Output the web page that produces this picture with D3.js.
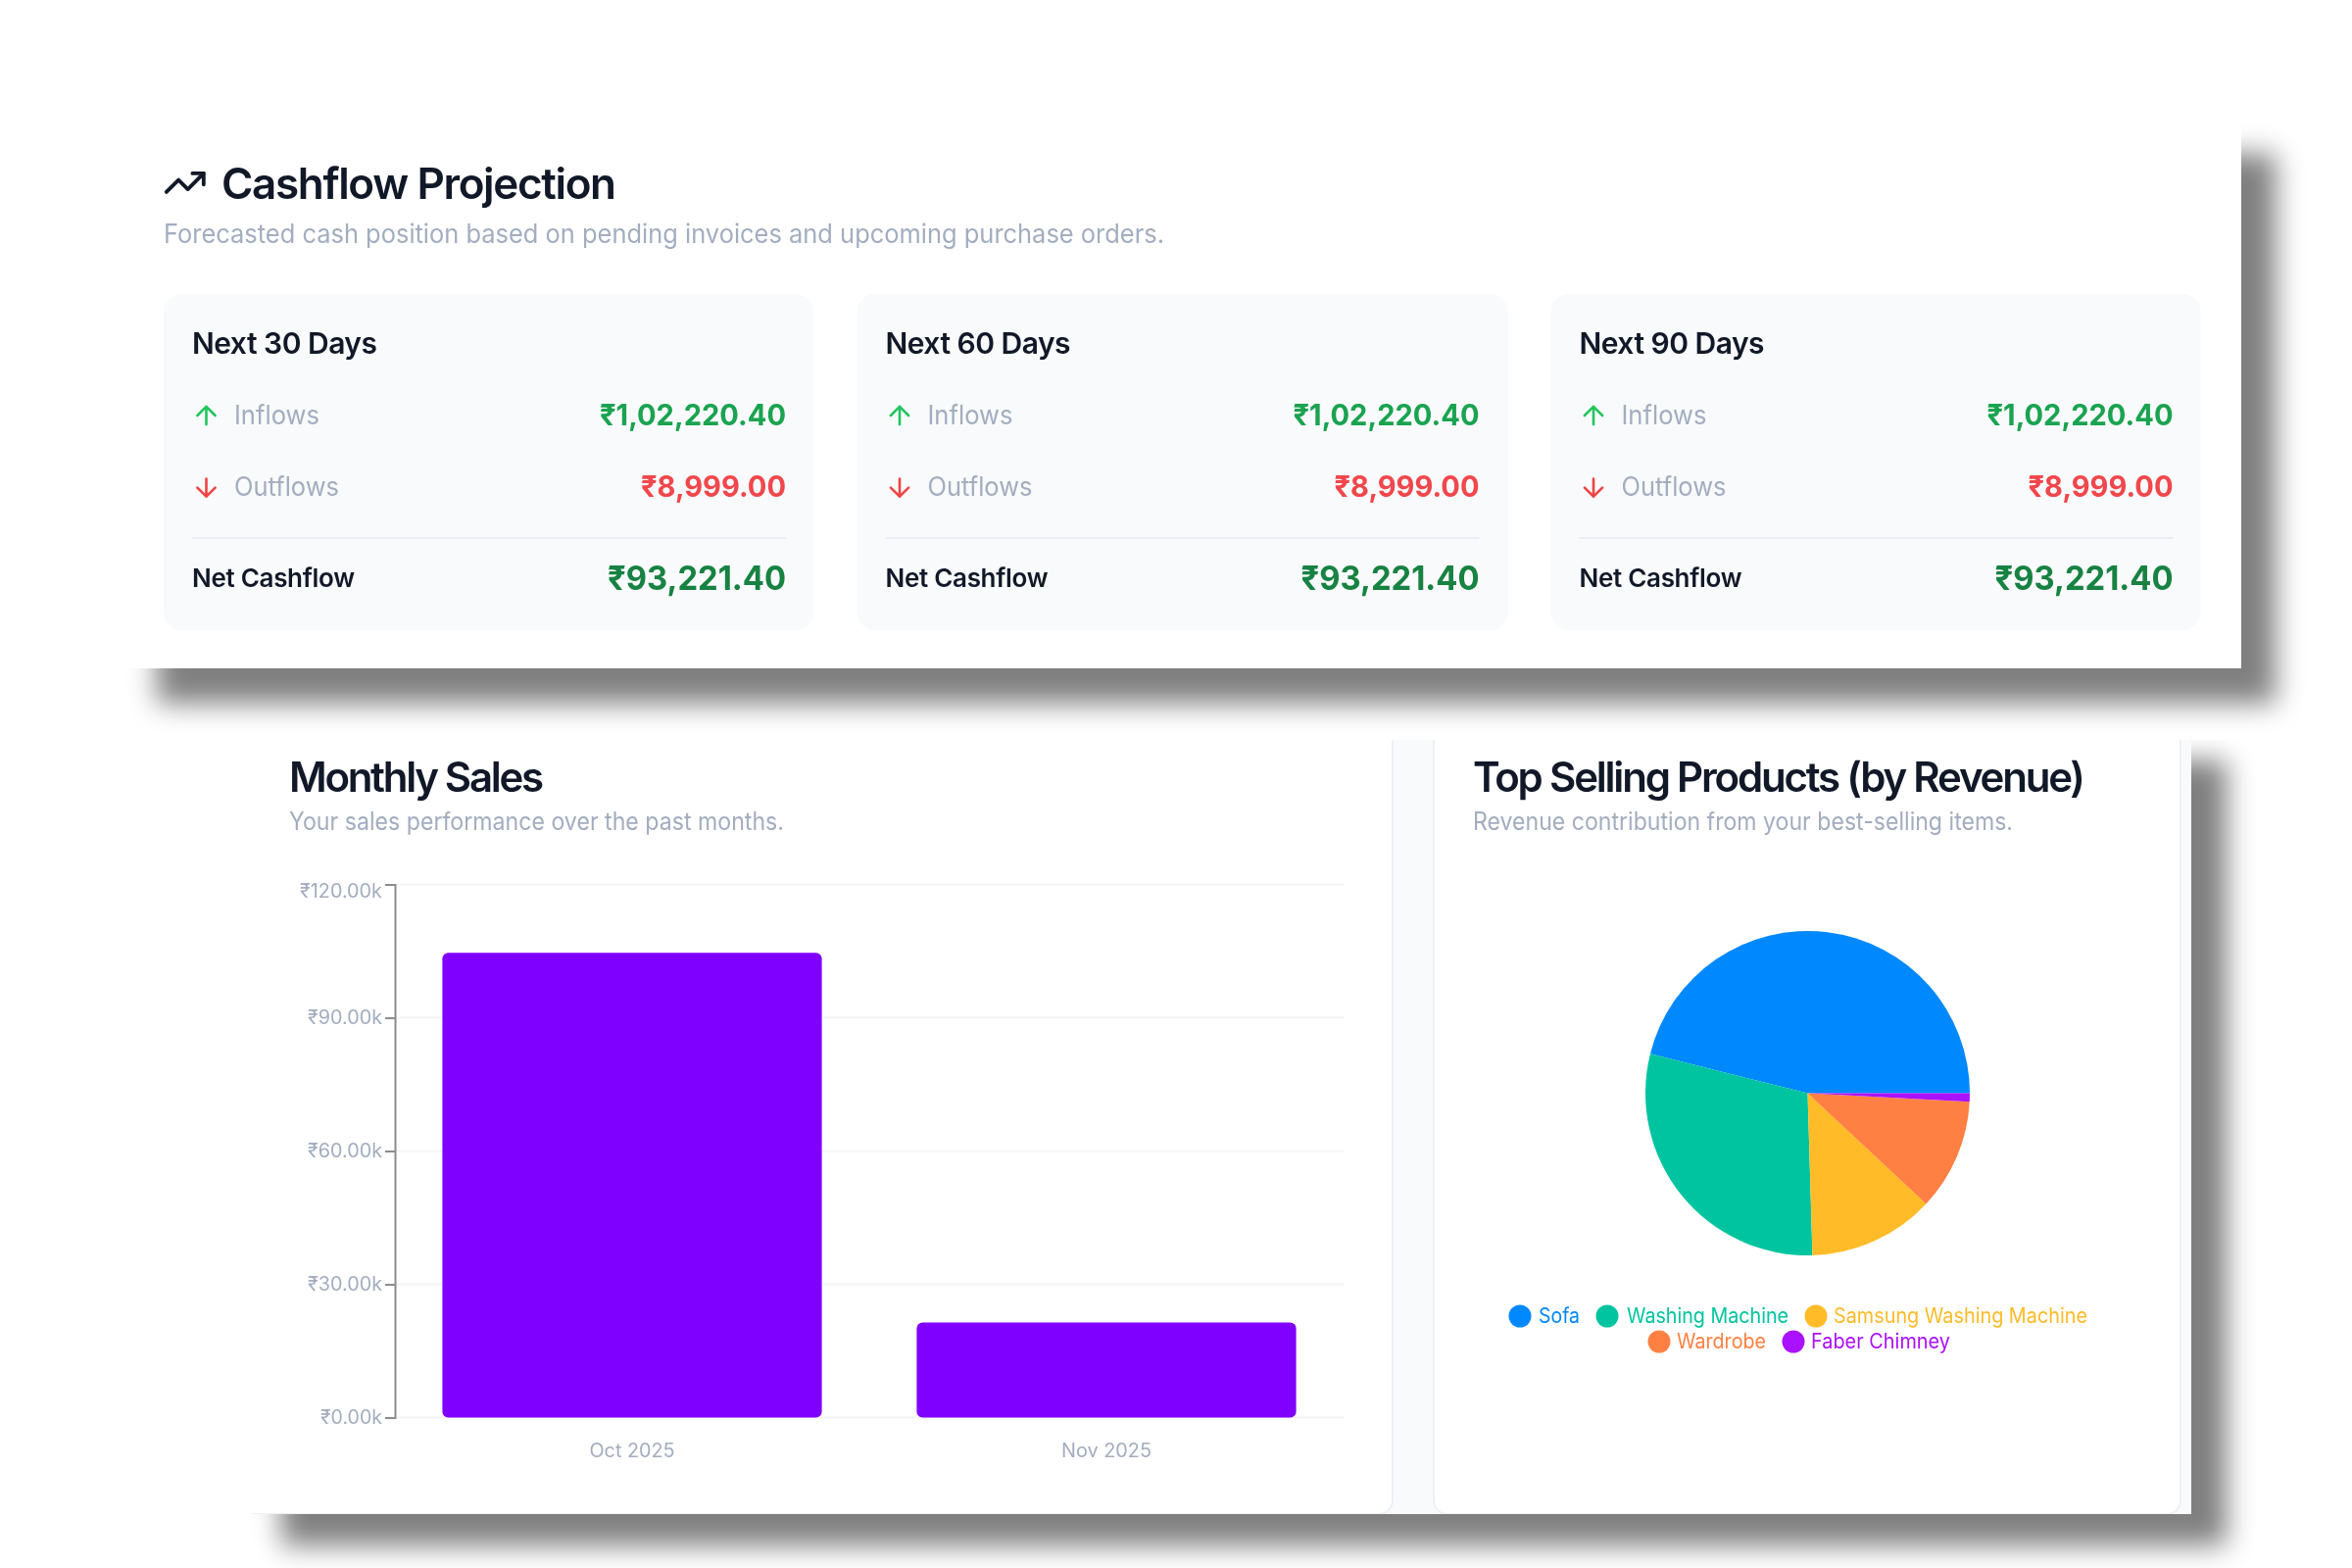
<!DOCTYPE html>
<html>
<head>
<meta charset="utf-8">
<script src="https://cdn.jsdelivr.net/npm/d3@7/dist/d3.min.js"></script>
<style>
html,body{margin:0;padding:0;background:#fff;}
svg{display:block;filter:blur(0.6px);}
text{font-family:Inter,"Noto Sans",sans-serif;}
</style>
</head>
<body>
<div id="chart"></div>
<script>
// ---------- data ----------
const periods = ["Next 30 Days", "Next 60 Days", "Next 90 Days"];
const inflows = [102220.40, 102220.40, 102220.40];
const outflows = [8999.00, 8999.00, 8999.00];
const netCashflow = [93221.40, 93221.40, 93221.40];

const months = ["Oct 2025", "Nov 2025"];
const monthlySales = [104600, 21400];
const salesTicks = [0, 30000, 60000, 90000, 120000];

const products = ["Sofa", "Washing Machine", "Samsung Washing Machine", "Wardrobe", "Faber Chimney"];
const productRevenue = [57600, 36700, 15700, 13900, 1040];
const productColors = ["#0088FE", "#00C49F", "#FFBB28", "#FF8042", "#AA11FF"];

// ---------- helpers ----------
const W = 2400, H = 1600;
const svg = d3.select("#chart").append("svg").attr("width", W).attr("height", H).attr("viewBox", `0 0 ${W} ${H}`);
const defs = svg.append("defs");
defs.append("filter").attr("id", "blur").attr("x", "-10%").attr("y", "-20%").attr("width", "120%").attr("height", "140%")
  .append("feGaussianBlur").attr("stdDeviation", 14);
defs.append("clipPath").attr("id", "lowerClip").append("rect").attr("x", 0).attr("y", 755).attr("width", W).attr("height", H - 755);

const INK = "#111827", MUTED = "#a3adbf";
function label(g, str, x, y, size, weight, color, width, anchor, adjust) {
  const t = g.append("text").attr("x", x).attr("y", y).attr("font-size", size).attr("font-weight", weight)
    .attr("fill", color).attr("text-anchor", anchor || "start").text(str);
  if (width) t.attr("textLength", width).attr("lengthAdjust", adjust || "spacingAndGlyphs");
  return t;
}
const rupee = v => "₹" + new Intl.NumberFormat("en-IN", {minimumFractionDigits: 2, maximumFractionDigits: 2}).format(v);

// ---------- upper panel ----------
const upper = svg.append("g");
upper.append("rect").attr("x", 160).attr("y", 157).attr("width", 2162).attr("height", 561).attr("fill", "#000").attr("opacity", 0.5).attr("filter", "url(#blur)");
upper.append("rect").attr("x", 125).attr("y", 125).attr("width", 2162).attr("height", 557).attr("fill", "#fff");

const trend = upper.append("g").attr("transform", "translate(166,163.6) scale(1.9)")
  .attr("fill", "none").attr("stroke", INK).attr("stroke-width", 2).attr("stroke-linecap", "round").attr("stroke-linejoin", "round");
trend.append("polyline").attr("points", "22 7 13.5 15.5 8.5 10.5 2 17");
trend.append("polyline").attr("points", "16 7 22 7 22 13");

label(upper, "Cashflow Projection", 226, 203, 44, 600, INK, 403, "start", "spacing");
label(upper, "Forecasted cash position based on pending invoices and upcoming purchase orders.", 167, 248, 26.5, 400, MUTED, 1021);

const cardX = [167, 874.5, 1582.5];
const cardW = [663, 664.5, 663];
periods.forEach((p, i) => {
  const x0 = cardX[i];
  const g = upper.append("g").attr("transform", `translate(${x0},0)`);
  g.append("rect").attr("y", 300).attr("width", cardW[i]).attr("height", 343).attr("rx", 18).attr("fill", "#f9fafb");
  const L = 29, R = 635;
  label(g, p, L, 361, 30, 600, INK, 189, "start", "spacing");

  const up = g.append("g").attr("transform", `translate(${43.5 - 15.6},${424 - 15.6}) scale(1.3)`)
    .attr("fill", "none").attr("stroke", "#22c55e").attr("stroke-width", 2).attr("stroke-linecap", "round").attr("stroke-linejoin", "round");
  up.append("path").attr("d", "M12 19V5M5 12l7-7 7 7");
  label(g, "Inflows", 72, 433, 27, 400, MUTED, 87);
  label(g, rupee(inflows[i]), R, 434, 30, 700, "#1aa350", 190, "end");

  const dn = g.append("g").attr("transform", `translate(${43.5 - 15.6},${497.6 - 15.6}) scale(1.3)`)
    .attr("fill", "none").attr("stroke", "#ef4444").attr("stroke-width", 2).attr("stroke-linecap", "round").attr("stroke-linejoin", "round");
  dn.append("path").attr("d", "M12 5v14M19 12l-7 7-7-7");
  label(g, "Outflows", 72, 506, 27, 400, MUTED, 107);
  label(g, rupee(outflows[i]), R, 507, 30, 700, "#f0474c", 148, "end");

  g.append("line").attr("x1", L).attr("x2", R).attr("y1", 549).attr("y2", 549).attr("stroke", "#eceef5").attr("stroke-width", 2);
  label(g, "Net Cashflow", L, 599, 26, 600, INK, 166, "start", "spacing");
  label(g, rupee(netCashflow[i]), R, 602, 34, 700, "#178242", 182, "end");
});

// ---------- lower panel ----------
svg.append("rect").attr("x", 0).attr("y", 755).attr("width", W).attr("height", H - 755).attr("fill", "#fff");
const lowerShadow = svg.append("g").attr("clip-path", "url(#lowerClip)");
lowerShadow.append("rect").attr("x", 287).attr("y", 776).attr("width", 1985).attr("height", 801).attr("fill", "#000").attr("opacity", 0.5).attr("filter", "url(#blur)");

svg.append("rect").attr("x", 257).attr("y", 755).attr("width", 1979).attr("height", 790).attr("fill", "#f9fafc");
const cardClip = defs.append("clipPath").attr("id", "cardClip");
cardClip.append("rect").attr("x", 257).attr("y", 755).attr("width", 1979).attr("height", 790);
const cards = svg.append("g").attr("clip-path", "url(#cardClip)");
[[240, 1421], [1463, 2225]].forEach(([a, b]) => {
  cards.append("rect").attr("x", a).attr("y", 720).attr("width", b - a).attr("height", 825).attr("rx", 14)
    .attr("fill", "#fff").attr("stroke", "#eef0f6").attr("stroke-width", 2);
});

// Monthly sales
label(svg, "Monthly Sales", 295, 808, 42, 600, INK, 260, "start", "spacing");
label(svg, "Your sales performance over the past months.", 295, 847, 25, 400, MUTED, 505);

const xBand = d3.scaleBand().domain(months).range([403, 1371]).paddingInner(0.2).paddingOuter(0.1);
const yLin = d3.scaleLinear().domain([0, 120000]).range([1446.5, 902.5]);

svg.append("g").selectAll("line").data(salesTicks).join("line")
  .attr("x1", 403).attr("x2", 1371).attr("y1", d => yLin(d)).attr("y2", d => yLin(d))
  .attr("stroke", "#f3f4f6").attr("stroke-width", 2);

const yAxis = svg.append("g").attr("transform", "translate(403,0)")
  .call(d3.axisLeft(yLin).tickValues(salesTicks).tickSize(10).tickPadding(3)
    .tickFormat(d => "₹" + (d / 1000).toFixed(2) + "k"));
yAxis.select(".domain").attr("stroke", "#8c8c8c").attr("stroke-width", 2);
yAxis.selectAll(".tick line").attr("stroke", "#8c8c8c").attr("stroke-width", 2);
yAxis.selectAll(".tick text").attr("font-size", 19.5).attr("fill", MUTED).attr("font-family", "Inter")
  .attr("textLength", d => ({0: 63, 30000: 76, 60000: 76, 90000: 76, 120000: 84})[d]).attr("lengthAdjust", "spacingAndGlyphs")
  .attr("dy", d => d === 120000 ? "0.67em" : "0.32em");

svg.append("g").selectAll("rect").data(months).join("rect")
  .attr("x", d => xBand(d)).attr("width", xBand.bandwidth())
  .attr("y", (d, i) => yLin(monthlySales[i])).attr("height", (d, i) => yLin(0) - yLin(monthlySales[i]))
  .attr("rx", 6).attr("fill", "#8000FF");

const xAxis = svg.append("g").attr("transform", "translate(0,1447)")
  .call(d3.axisBottom(xBand).tickSize(0).tickPadding(26));
xAxis.select(".domain").remove();
xAxis.selectAll(".tick text").attr("font-size", 19.5).attr("fill", MUTED).attr("font-family", "Inter")
  .attr("textLength", (d, i) => [87, 92][i]).attr("lengthAdjust", "spacingAndGlyphs");

// Top products
label(svg, "Top Selling Products (by Revenue)", 1503, 808, 42, 600, INK, 625, "start", "spacing");
label(svg, "Revenue contribution from your best-selling items.", 1503, 847, 25, 400, MUTED, 551);

const pie = d3.pie().sort(null).startAngle(Math.PI / 2).endAngle(Math.PI / 2 - 2 * Math.PI)(productRevenue);
const arc = d3.arc().innerRadius(0).outerRadius(165.5);
svg.append("g").attr("transform", "translate(1844.5,1115.5)").selectAll("path").data(pie).join("path")
  .attr("d", arc).attr("fill", (d, i) => productColors[i]);

const legendLayout = [
  {cx: 1551, tx: 1570, y: 1343, w: 42},
  {cx: 1640, tx: 1660, y: 1343, w: 165},
  {cx: 1853, tx: 1871, y: 1343, w: 259},
  {cx: 1693, tx: 1711, y: 1369, w: 91},
  {cx: 1830, tx: 1848, y: 1369, w: 142}
];
products.forEach((name, i) => {
  const l = legendLayout[i];
  svg.append("circle").attr("cx", l.cx).attr("cy", l.y).attr("r", 11.5).attr("fill", productColors[i]);
  label(svg, name, l.tx, l.y + 6.5, 21, 400, productColors[i], l.w);
});
</script>
</body>
</html>
